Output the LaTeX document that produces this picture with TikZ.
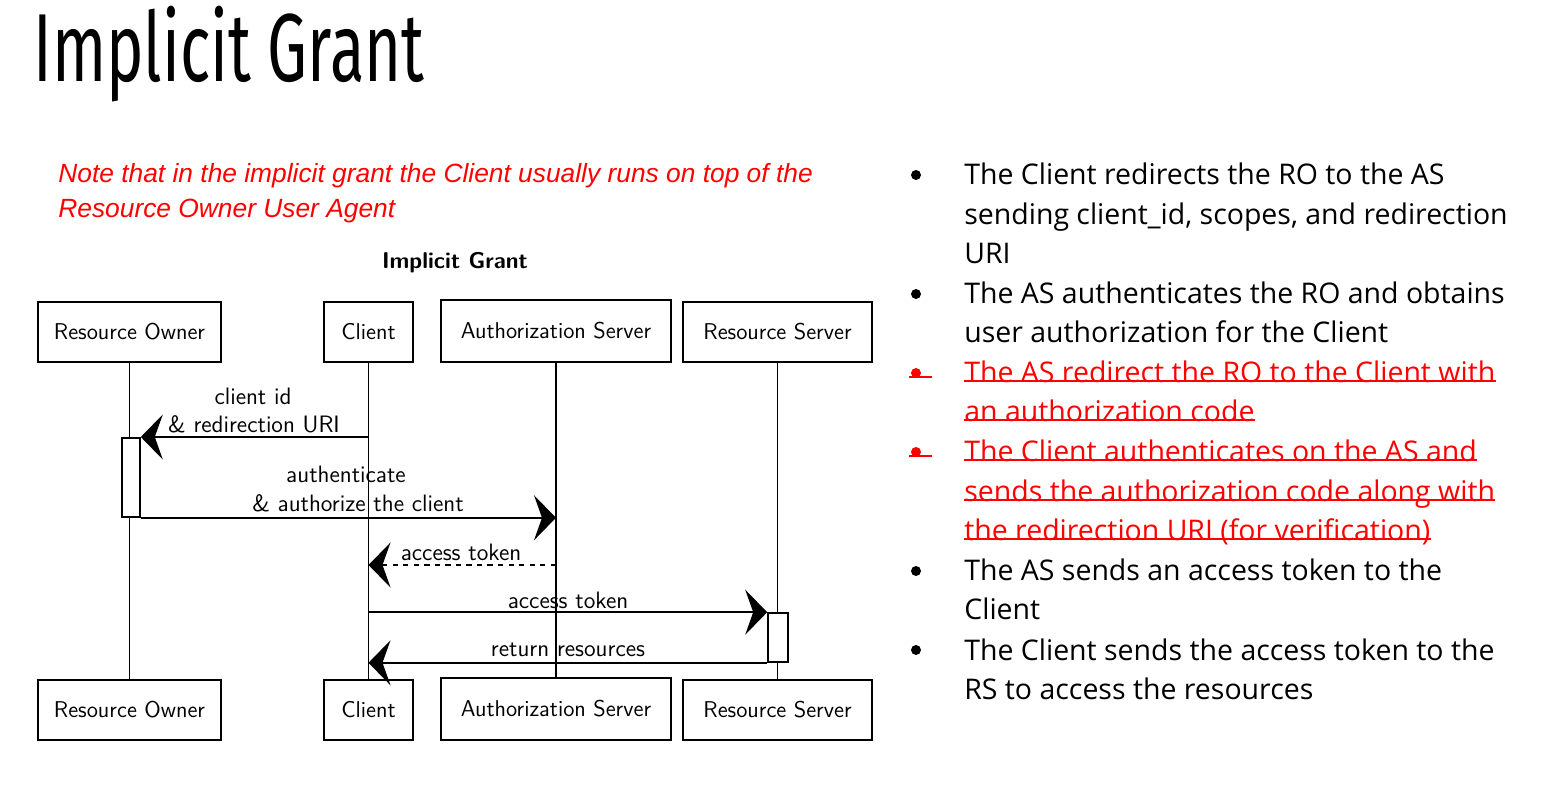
\documentclass[tikz,border=0pt]{standalone}
\usepackage{fontspec}
\usetikzlibrary{arrows.meta}
\newfontfamily\titlefont[FakeStretch=0.655]{Fira Sans}
\newfontfamily\notefont{Liberation Sans}
\newfontfamily\listfont{Open Sans}

\begin{document}
\begin{tikzpicture}
		[x=0.02cm, y=-0.02cm,
		actor/.style={draw=black, line width=0.9pt, fill=white, minimum height=1.2cm, inner sep=0pt, font=\sffamily\fontsize{13}{15}\selectfont},
		act/.style={draw=black, line width=0.9pt, fill=white, inner sep=0pt},
		life/.style={line width=0.7pt},
		msg/.style={line width=1.1pt, -{Stealth[length=0.44cm, width=0.9cm, inset=0.16cm]}},
		lbl/.style={font=\sffamily\fontsize{13.5}{15}\selectfont},
		line/.style={anchor=base west, inner sep=0pt, font=\listfont\fontsize{16.2}{19}\selectfont},
		gone/.style={line, text=red},
		strike/.style={red, line width=1.2pt},
		dot/.style={circle, fill=black, minimum size=0.2cm, inner sep=0pt}]
		\useasboundingbox (0,0) rectangle (1541,786);

		% headings
		\node[anchor=base west, inner sep=0pt, font=\titlefont\fontsize{55}{60}\selectfont] (title) at (33,82) {Implicit Grant};
		\node[anchor=base west, inner sep=0pt, text=red, font=\notefont\itshape\fontsize{15}{18}\selectfont] (note1) at (58,183) {Note that in the implicit grant the Client usually runs on top of the};
		\node[anchor=base west, inner sep=0pt, text=red, font=\notefont\itshape\fontsize{15}{18}\selectfont] (note2) at (58,218) {Resource Owner User Agent};
		\node[font=\sffamily\bfseries\fontsize{13}{15}\selectfont] (dtitle) at (455,263) {Implicit Grant};

		% participants
		\node[actor, minimum width=3.66cm] (ro) at (129.5,332) {Resource Owner};
		\node[actor, minimum width=1.78cm] (cl) at (368.5,332) {Client};
		\node[actor, minimum width=4.6cm, minimum height=1.24cm] (as) at (556,331) {Authorization Server};
		\node[actor, minimum width=3.78cm] (rs) at (777.5,332) {Resource Server};
		\node[actor, minimum width=3.66cm] (ro2) at (129.5,710) {Resource Owner};
		\node[actor, minimum width=1.78cm] (cl2) at (368.5,710) {Client};
		\node[actor, minimum width=4.6cm, minimum height=1.24cm] (as2) at (556,709) {Authorization Server};
		\node[actor, minimum width=3.78cm] (rs2) at (777.5,710) {Resource Server};

		\draw[life] (ro) -- (ro2);
		\draw[life] (cl) -- (cl2);
		\draw[life] (as) -- (as2);
		\draw[life] (rs) -- (rs2);

		\node[act, minimum width=0.36cm, minimum height=1.58cm] (act1) at (131,477.5) {};
		\node[act, minimum width=0.4cm, minimum height=0.98cm] (act2) at (778,637.5) {};

		% messages
		\coordinate (m1) at (0,437);
		\coordinate (m3) at (0,565);
		\draw[msg] (cl.south |- m1) -- (act1.east |- m1);
		\draw[msg] (act1.south east) -- (as.south |- act1.south);
		\draw[msg, dashed, line width=0.9pt] (as.south |- m3) -- (cl.south |- m3);
		\draw[msg] (cl.south |- act2.north) -- (act2.north west);
		\draw[msg] (act2.south west) -- (cl.south |- act2.south);

		\node[lbl] (l1a) at (253,396) {client id};
		\node[lbl] (l1b) at (254,424) {\& redirection URI};
		\node[lbl] (l2a) at (346,474) {authenticate};
		\node[lbl] (l2b) at (358,503) {\& authorize the client};
		\node[lbl] (l3) at (461,552) {access token};
		\node[lbl] (l4) at (568,600) {access token};
		\node[lbl] (l5) at (568,650) {return resources};

		% steps
		\node[dot] (b1) at (916,175) {};
		\node[dot] (b2) at (916,294) {};
		\node[dot, fill=red] (b3) at (916,373) {};
		\node[dot, fill=red] (b4) at (916,452) {};
		\node[dot] (b5) at (916,571) {};
		\node[dot] (b6) at (916,650) {};
		\draw[strike] (b3.south west) ++(-3,0) -- ++(23,0);
		\draw[strike] (b4.south west) ++(-3,0) -- ++(23,0);

		\node[line] (s1a) at (964,185) {The Client redirects the RO to the AS};
		\node[line] (s1b) at (964,225) {sending client\_id, scopes, and redirection};
		\node[line] (s1c) at (964,264) {URI};
		\node[line] (s2a) at (964,304) {The AS authenticates the RO and obtains};
		\node[line] (s2b) at (964,343) {user authorization for the Client};
		\node[gone] (s3a) at (964,383) {The AS redirect the RO to the Client with};
		\node[gone] (s3b) at (964,422) {an authorization code};
		\node[gone] (s4a) at (964,462) {The Client authenticates on the AS and};
		\node[gone] (s4b) at (964,502) {sends the authorization code along with};
		\node[gone] (s4c) at (964,541) {the redirection URI (for verification)};
		\node[line] (s5a) at (964,581) {The AS sends an access token to the};
		\node[line] (s5b) at (964,620) {Client};
		\node[line] (s6a) at (964,660) {The Client sends the access token to the};
		\node[line] (s6b) at (964,699) {RS to access the resources};

		\draw[strike] ([yshift=0.04cm]s3a.base west) -- ([yshift=0.04cm]s3a.base east);
		\draw[strike] ([yshift=0.04cm]s3b.base west) -- ([yshift=0.04cm]s3b.base east);
		\draw[strike] ([yshift=0.04cm]s4a.base west) -- ([yshift=0.04cm]s4a.base east);
		\draw[strike] ([yshift=0.04cm]s4b.base west) -- ([yshift=0.04cm]s4b.base east);
		\draw[strike] ([yshift=0.04cm]s4c.base west) -- ([yshift=0.04cm]s4c.base east);
	\end{tikzpicture}
\end{document}
